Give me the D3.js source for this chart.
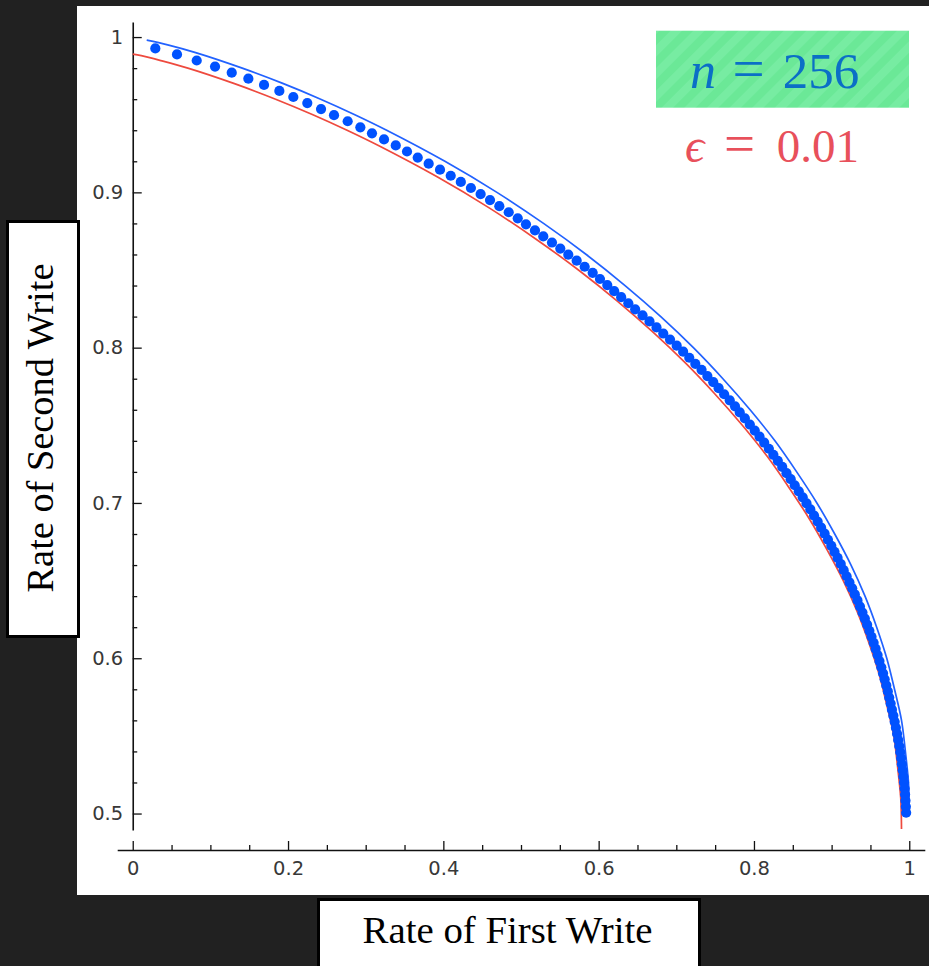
<!DOCTYPE html>
<html>
<head>
<meta charset="utf-8">
<script src="https://cdn.jsdelivr.net/npm/d3@7"></script>
<style>
  html, body { margin: 0; padding: 0; background: #212121; }
  svg { display: block; }
</style>
</head>
<body>
<div id="chart"></div>
<script>
// axis ticks
const xTicks = [0, 0.2, 0.4, 0.6, 0.8, 1];
const xMinorTicks = [0.05, 0.1, 0.15, 0.25, 0.3, 0.35, 0.45, 0.5, 0.55, 0.65, 0.7, 0.75, 0.85, 0.9, 0.95];
const yTicks = [0.5, 0.6, 0.7, 0.8, 0.9, 1];
const yMinorTicks = [0.52, 0.54, 0.56, 0.58, 0.62, 0.64, 0.66, 0.68, 0.72, 0.74, 0.76, 0.78,
  0.82, 0.84, 0.86, 0.88, 0.92, 0.94, 0.96, 0.98];

const xLabel = 'Rate of First Write';
const yLabel = 'Rate of Second Write';
const nLabel = '256';
const epsLabel = '0.01';

// upper (blue) boundary curve
const outerR1 = [0.018, 0.045, 0.081, 0.141, 0.194, 0.242, 0.286, 0.327, 0.402, 0.469, 0.529,
  0.584, 0.634, 0.680, 0.722, 0.760, 0.795, 0.827, 0.855, 0.881, 0.904, 0.925, 0.943, 0.958,
  0.971, 0.981, 0.990, 0.995, 0.999, 0.9997, 1.0];
const outerR2 = [0.998, 0.995, 0.99, 0.98, 0.97, 0.96, 0.95, 0.94, 0.92, 0.90, 0.88, 0.86, 0.84,
  0.82, 0.80, 0.78, 0.76, 0.74, 0.72, 0.70, 0.68, 0.66, 0.64, 0.62, 0.60, 0.58, 0.56, 0.54,
  0.52, 0.51, 0.50];

// lower (red) curve, epsilon below
const innerR1 = [0.0, 0.011, 0.035, 0.071, 0.131, 0.184, 0.232, 0.276, 0.317, 0.392, 0.459, 0.519,
  0.574, 0.624, 0.670, 0.712, 0.750, 0.785, 0.817, 0.845, 0.871, 0.894, 0.915, 0.933, 0.948,
  0.961, 0.971, 0.980, 0.985, 0.989, 0.9897, 0.990];
const innerR2 = [0.989, 0.988, 0.985, 0.98, 0.97, 0.96, 0.95, 0.94, 0.93, 0.91, 0.89, 0.87, 0.85,
  0.83, 0.81, 0.79, 0.77, 0.75, 0.73, 0.71, 0.69, 0.67, 0.65, 0.63, 0.61, 0.59, 0.57, 0.55,
  0.53, 0.51, 0.50, 0.49];

// achieved rate pairs (dots)
const dotR1 = [
  0.0291, 0.0570, 0.0824, 0.1060, 0.1275, 0.1489, 0.1691, 0.1888, 0.2068, 0.2248,
  0.2425, 0.2592, 0.2768, 0.2931, 0.3081, 0.3236, 0.3387, 0.3532, 0.3670, 0.3811,
  0.3957, 0.4095, 0.4225, 0.4355, 0.4480, 0.4601, 0.4721, 0.4842, 0.4958, 0.5064,
  0.5180, 0.5287, 0.5399, 0.5506, 0.5609, 0.5717, 0.5820, 0.5923, 0.6017, 0.6111,
  0.6200, 0.6290, 0.6382, 0.6470, 0.6565, 0.6655, 0.6745, 0.6832, 0.6919, 0.7005,
  0.7088, 0.7167, 0.7245, 0.7325, 0.7400, 0.7476, 0.7545, 0.7616, 0.7688, 0.7756,
  0.7817, 0.7883, 0.7947, 0.8010, 0.8072, 0.8132, 0.8192, 0.8250, 0.8307, 0.8364,
  0.8419, 0.8473, 0.8525, 0.8577, 0.8628, 0.8677, 0.8726, 0.8774, 0.8820, 0.8865,
  0.8910, 0.8953, 0.8996, 0.9037, 0.9077, 0.9117, 0.9155, 0.9193, 0.9229, 0.9265,
  0.9299, 0.9333, 0.9365, 0.9397, 0.9428, 0.9457, 0.9486, 0.9514, 0.9541, 0.9567,
  0.9592, 0.9616, 0.9640, 0.9662, 0.9683, 0.9704, 0.9724, 0.9742, 0.9760, 0.9777,
  0.9795, 0.9812, 0.9828, 0.9843, 0.9857, 0.9871, 0.9883, 0.9895, 0.9905, 0.9915,
  0.9924, 0.9932, 0.9940, 0.9946, 0.9951, 0.9956, 0.9960];
const dotR2 = [
  0.9927, 0.9888, 0.9849, 0.9810, 0.9771, 0.9732, 0.9692, 0.9653, 0.9614, 0.9575,
  0.9536, 0.9497, 0.9458, 0.9419, 0.9380, 0.9341, 0.9302, 0.9263, 0.9224, 0.9185,
  0.9146, 0.9107, 0.9067, 0.9028, 0.8989, 0.8950, 0.8911, 0.8872, 0.8833, 0.8794,
  0.8755, 0.8716, 0.8677, 0.8638, 0.8599, 0.8560, 0.8521, 0.8482, 0.8442, 0.8403,
  0.8364, 0.8325, 0.8286, 0.8247, 0.8208, 0.8169, 0.8130, 0.8091, 0.8052, 0.8013,
  0.7974, 0.7935, 0.7896, 0.7857, 0.7817, 0.7778, 0.7739, 0.7700, 0.7661, 0.7622,
  0.7583, 0.7544, 0.7505, 0.7466, 0.7427, 0.7388, 0.7349, 0.7310, 0.7271, 0.7232,
  0.7192, 0.7153, 0.7114, 0.7075, 0.7036, 0.6997, 0.6958, 0.6919, 0.6880, 0.6841,
  0.6802, 0.6763, 0.6724, 0.6685, 0.6646, 0.6607, 0.6567, 0.6528, 0.6489, 0.6450,
  0.6411, 0.6372, 0.6333, 0.6294, 0.6255, 0.6216, 0.6177, 0.6138, 0.6099, 0.6060,
  0.6021, 0.5982, 0.5942, 0.5903, 0.5864, 0.5825, 0.5786, 0.5747, 0.5708, 0.5669,
  0.5630, 0.5591, 0.5552, 0.5513, 0.5474, 0.5435, 0.5396, 0.5357, 0.5317, 0.5278,
  0.5239, 0.5200, 0.5161, 0.5122, 0.5083, 0.5044, 0.5005];

const fitText = (sel, target) => {
  const len = sel.node().getComputedTextLength();
  sel.attr('font-size', parseFloat(sel.attr('font-size')) * target / len);
};

const drawChart = (id) => {
  const width = 929;
  const height = 966;
  const xAxisY = 850;

  const svg = d3
    .select(`#${id}`)
    .append('svg')
    .attr('width', width)
    .attr('height', height);

  svg.append('rect').attr('width', width).attr('height', height).attr('fill', '#212121');

  // white plot panel
  svg.append('rect')
    .attr('x', 77)
    .attr('y', 6)
    .attr('width', 852)
    .attr('height', 889)
    .attr('fill', '#ffffff');

  const x = d3.scaleLinear().domain([-0.02, 1.02]).range([117.2, 924.8]);
  const y = d3.scaleLinear().domain([0.4894, 1.0097]).range([830, 22]);

  const styleAxis = (g) => {
    g.select('.domain').attr('stroke', '#111').attr('stroke-width', 1.6);
    g.selectAll('.tick line').attr('stroke', '#111').attr('stroke-width', 1.3);
    g.selectAll('.tick text')
      .attr('fill', '#383838')
      .attr('font-family', 'DejaVu Sans, sans-serif')
      .attr('font-size', 19.5);
  };

  // x axis
  svg.append('g')
    .attr('transform', `translate(0, ${xAxisY})`)
    .call(d3.axisBottom(x).tickValues(xTicks).tickSizeInner(-9).tickSizeOuter(0)
      .tickPadding(11).tickFormat(d3.format('~g')))
    .call(styleAxis);
  svg.append('g')
    .attr('transform', `translate(0, ${xAxisY})`)
    .call(d3.axisBottom(x).tickValues(xMinorTicks).tickSizeInner(-5).tickSizeOuter(0).tickFormat(''))
    .call((g) => g.select('.domain').remove())
    .call(styleAxis);

  // y axis
  svg.append('g')
    .attr('transform', `translate(${x(0)}, 0)`)
    .call(d3.axisLeft(y).tickValues(yTicks).tickSizeInner(-9).tickSizeOuter(0)
      .tickPadding(9.5).tickFormat(d3.format('~g')))
    .call(styleAxis);
  svg.append('g')
    .attr('transform', `translate(${x(0)}, 0)`)
    .call(d3.axisLeft(y).tickValues(yMinorTicks).tickSizeInner(-4.5).tickSizeOuter(0).tickFormat(''))
    .call((g) => g.select('.domain').remove())
    .call(styleAxis);

  const line = d3
    .line()
    .x((d) => x(d[0]))
    .y((d) => y(d[1]))
    .curve(d3.curveCatmullRom.alpha(0.5));

  svg.append('path')
    .datum(d3.zip(innerR1, innerR2))
    .attr('fill', 'none')
    .attr('stroke', '#ee4a3e')
    .attr('stroke-width', 1.7)
    .attr('d', line);

  svg.append('path')
    .datum(d3.zip(outerR1, outerR2))
    .attr('fill', 'none')
    .attr('stroke', '#2262ff')
    .attr('stroke-width', 1.7)
    .attr('d', line);

  svg.append('g')
    .selectAll('circle')
    .data(d3.zip(dotR1, dotR2))
    .enter()
    .append('circle')
    .attr('cx', (d) => x(d[0]))
    .attr('cy', (d) => y(d[1]))
    .attr('r', 5.1)
    .attr('fill', '#0052ff');

  // y label box
  svg.append('rect')
    .attr('x', 7.5)
    .attr('y', 221.5)
    .attr('width', 71)
    .attr('height', 415)
    .attr('fill', '#fff')
    .attr('stroke', '#000')
    .attr('stroke-width', 3);
  svg.append('text')
    .attr('transform', 'translate(53.3, 428) rotate(-90)')
    .attr('text-anchor', 'middle')
    .attr('font-family', 'Liberation Serif, serif')
    .attr('font-size', 38)
    .attr('fill', '#000')
    .text(yLabel)
    .call(fitText, 329);

  // x label box
  svg.append('rect')
    .attr('x', 318.5)
    .attr('y', 899.5)
    .attr('width', 381)
    .attr('height', 90)
    .attr('fill', '#fff')
    .attr('stroke', '#000')
    .attr('stroke-width', 3);
  svg.append('text')
    .attr('x', 507.5)
    .attr('y', 943.3)
    .attr('text-anchor', 'middle')
    .attr('font-family', 'Liberation Serif, serif')
    .attr('font-size', 38)
    .attr('fill', '#000')
    .text(xLabel)
    .call(fitText, 290);

  // legend: n and epsilon
  const defs = svg.append('defs');
  const pattern = defs.append('pattern')
    .attr('id', 'stripes')
    .attr('patternUnits', 'userSpaceOnUse')
    .attr('width', 16)
    .attr('height', 16)
    .attr('patternTransform', 'rotate(45)');
  pattern.append('rect').attr('width', 16).attr('height', 16).attr('fill', '#6be897');
  pattern.append('rect').attr('width', 8).attr('height', 16).attr('fill', '#77eca2');

  svg.append('rect')
    .attr('x', 656)
    .attr('y', 30.7)
    .attr('width', 253)
    .attr('height', 77)
    .attr('fill', 'url(#stripes)');

  const serif = 'Liberation Serif, DejaVu Serif, serif';
  const blue = '#0b6fc6';
  const red = '#e8505b';

  svg.append('text').attr('x', 690).attr('y', 88.3)
    .attr('font-family', serif).attr('font-style', 'italic').attr('font-size', 52)
    .attr('fill', blue).text('n');
  svg.append('text').attr('x', 748.5).attr('y', 88.3).attr('text-anchor', 'middle')
    .attr('font-family', serif).attr('font-size', 57).attr('fill', blue).text('=');
  svg.append('text').attr('x', 782.7).attr('y', 88.3)
    .attr('font-family', serif).attr('font-size', 51).attr('fill', blue).text(nLabel);

  svg.append('text').attr('x', 685).attr('y', 162.3)
    .attr('font-family', serif).attr('font-style', 'italic').attr('font-size', 48)
    .attr('fill', red).text('\u03F5');
  svg.append('text').attr('x', 739.5).attr('y', 162.3).attr('text-anchor', 'middle')
    .attr('font-family', serif).attr('font-size', 55).attr('fill', red).text('=');
  svg.append('text').attr('x', 776.7).attr('y', 162.3)
    .attr('font-family', serif).attr('font-size', 47).attr('fill', red).text(epsLabel);
};

drawChart('chart');
</script>
</body>
</html>
